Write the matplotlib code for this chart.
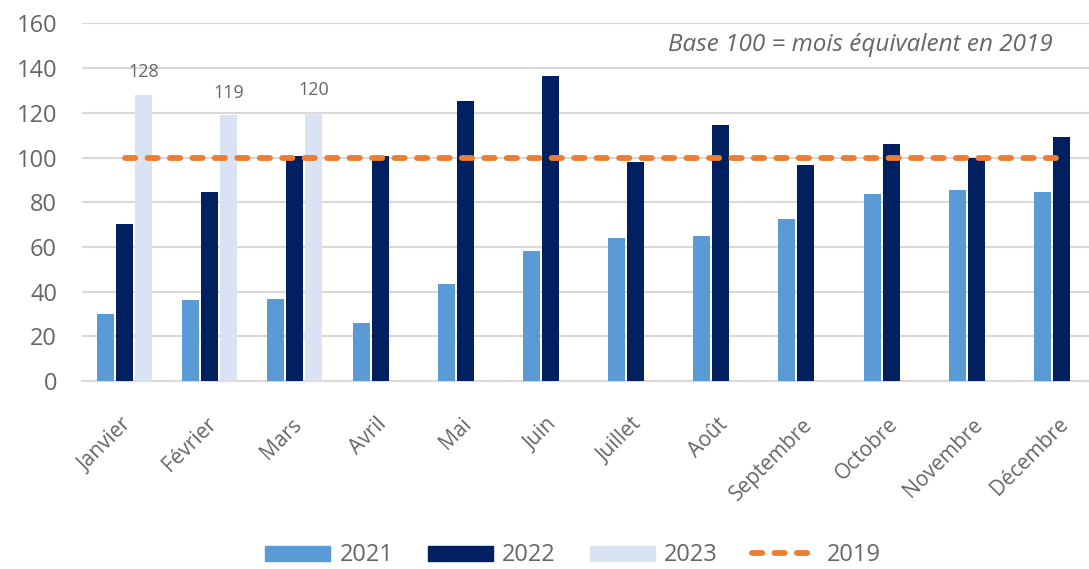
import matplotlib.pyplot as plt
import matplotlib.transforms as mtransforms
import numpy as np
from matplotlib.lines import Line2D
from matplotlib.patches import Patch

plt.rcParams['font.family'] = ['Open Sans', 'DejaVu Sans']

months = ['Janvier', 'Février', 'Mars', 'Avril', 'Mai', 'Juin', 'Juillet',
          'Août', 'Septembre', 'Octobre', 'Novembre', 'Décembre']
vals_2021 = [30.1, 36.4, 36.6, 25.9, 43.6, 58.1, 64.2, 65.1, 72.7, 83.9, 85.7, 84.6]
vals_2022 = [70.5, 84.8, 100.7, 100.7, 125.4, 136.6, 98.0, 114.4, 96.8, 105.9, 99.8, 109.2]
vals_2023 = [128, 119, 120]
ref_2019 = [100] * 12

c21, c22, c23, c19 = '#5B9BD5', '#002060', '#DAE3F3', '#ED7D31'
grey = '#666666'
dash = (0, (1.75, 2.1))

fig = plt.figure(figsize=(10.89, 5.69), dpi=100)
ax = fig.add_axes([0.0753, 0.330, 0.9385, 0.629])

x = np.arange(len(months))
w = 0.2
step = 0.223
ax.bar(x - step, vals_2021, w, color=c21, zorder=3)
ax.bar(x, vals_2022, w, color=c22, zorder=3)
x23 = x[:len(vals_2023)] + step
ax.bar(x23, vals_2023, w, color=c23, zorder=3)
for xi, v in zip(x23, vals_2023):
    ax.text(xi, v + 6, f'{v:.0f}', ha='center', va='bottom', fontsize=13, color=grey)

ax.plot(x, ref_2019, color=c19, lw=4.2, linestyle=dash,
        dash_capstyle='round', zorder=4)

ax.set_xlim(-0.5, len(months) - 0.5)
ax.set_ylim(0, 160)
ax.set_yticks(range(0, 161, 20))
ax.grid(axis='y', color='#D9D9D9', lw=1.5, zorder=0)
ax.set_axisbelow(True)
for s in ['top', 'right', 'left']:
    ax.spines[s].set_visible(False)
ax.spines['bottom'].set_color('#D9D9D9')
ax.spines['bottom'].set_linewidth(1.5)
ax.tick_params(axis='y', length=0, pad=18, labelsize=17, labelcolor=grey)
ax.tick_params(axis='x', length=0, pad=12)
ax.set_xticks(x)
ax.set_xticklabels(months, rotation=45, ha='right', rotation_mode='anchor',
                   fontsize=15, color=grey)
# nudge the rotated month names so they hang just under their ticks
shift = mtransforms.ScaledTranslation(-4 / 100, -16 / 100, fig.dpi_scale_trans)
for lbl in ax.get_xticklabels():
    lbl.set_transform(lbl.get_transform() + shift)

ax.text(0.950, 0.94, 'Base 100 = mois équivalent en 2019', transform=ax.transAxes,
        ha='right', va='center', fontsize=17.5, style='italic', color=grey)

handles = [Patch(color=c21, label='2021'), Patch(color=c22, label='2022'),
           Patch(color=c23, label='2023'),
           Line2D([], [], color=c19, lw=4.2, linestyle=dash,
                  dash_capstyle='round', label='2019')]
fig.legend(handles=handles, loc='center', bbox_to_anchor=(0.526, 0.024), ncol=4,
           frameon=False, fontsize=17, labelcolor=grey, handlelength=2.75,
           handleheight=0.6, handletextpad=0.4, columnspacing=1.45,
           borderpad=0.2)

fig.savefig('out.png', dpi=100)
